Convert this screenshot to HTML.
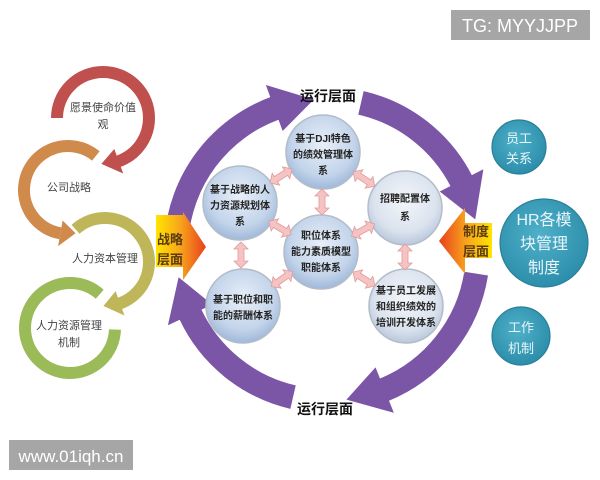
<!DOCTYPE html>
<html><head><meta charset="utf-8">
<style>
html,body{margin:0;padding:0;background:#fff;}
svg{display:block;}
text{font-family:"Liberation Sans","Noto Sans CJK SC",sans-serif;}
</style></head>
<body>
<svg width="600" height="480" viewBox="0 0 600 480" xmlns="http://www.w3.org/2000/svg">
<defs>
<radialGradient id="bc" cx="50%" cy="40%" r="60%">
<stop offset="0" stop-color="#e8eff8"/><stop offset="0.7" stop-color="#c3d4ea"/><stop offset="1" stop-color="#9fb8da"/>
</radialGradient>
<radialGradient id="bc2" cx="50%" cy="40%" r="60%">
<stop offset="0" stop-color="#f3f6fa"/><stop offset="0.7" stop-color="#dbe3ee"/><stop offset="1" stop-color="#b9c8dc"/>
</radialGradient>
<radialGradient id="tc" cx="45%" cy="40%" r="60%">
<stop offset="0" stop-color="#4fb0c9"/><stop offset="1" stop-color="#2d8eab"/>
</radialGradient>
<linearGradient id="ya" x1="0" y1="0" x2="1" y2="0">
<stop offset="0" stop-color="#ffe500"/><stop offset="0.5" stop-color="#f7a21c"/><stop offset="1" stop-color="#e8401c"/>
</linearGradient>
<linearGradient id="yb" x1="1" y1="0" x2="0" y2="0">
<stop offset="0" stop-color="#ffe500"/><stop offset="0.5" stop-color="#f7a21c"/><stop offset="1" stop-color="#e8401c"/>
</linearGradient>
<g id="da"><polygon points="-13,0 -6,-7 -6,-3 6,-3 6,-7 13,0 6,7 6,3 -6,3 -6,7" fill="#f6c3c3" stroke="#e09a9a" stroke-width="0.8"/></g>
</defs>

<!-- Left spiral -->
<g fill="none" stroke-width="12">
<circle cx="103" cy="118" r="46" stroke="#c0504d" stroke-dasharray="200.7 400" transform="rotate(180 103 118)"/>
<circle cx="68" cy="190" r="44" stroke="#d08a4c" stroke-dasharray="160.5 400" transform="rotate(100 68 190)"/>
<circle cx="105" cy="262" r="44" stroke="#bfb65a" stroke-dasharray="155.1 400" transform="rotate(228 105 262)"/>
<circle cx="70" cy="328" r="45" stroke="#9bbb59" stroke-dasharray="242.6 400" transform="rotate(2 70 328)"/>
</g>
<polygon points="33,0 59,0 42.6,17.2" fill="#c0504d" transform="translate(103 118) rotate(70)"/>
<polygon points="31,0 57,0 41.3,-15" fill="#d08a4c" transform="translate(68 190) rotate(100)"/>
<polygon points="31,0 57,0 40.8,16.5" fill="#bfb65a" transform="translate(105 262) rotate(70)"/>
<g font-size="11" fill="#444" text-anchor="middle">
<text x="103" y="111">愿景使命价值</text><text x="103" y="128">观</text>
<text x="69" y="191">公司战略</text>
<text x="105" y="262">人力资本管理</text>
<text x="69" y="329">人力资源管理</text><text x="69" y="346">机制</text>
</g>

<!-- Purple ring -->
<g fill="none" stroke="#7b55a6" stroke-width="24">
<path d="M151 0 A151 151 0 0 1 61.4 138" transform="translate(327 250) rotate(184)"/>
<path d="M151 0 A151 151 0 0 1 97.1 115.7" transform="translate(327 250) rotate(283)"/>
<path d="M151 0 A151 151 0 0 1 77.8 129.4" transform="translate(327 250) rotate(9)"/>
<path d="M151 0 A151 151 0 0 1 93 119" transform="translate(327 250) rotate(103)"/>
</g>
<g fill="#7b55a6">
<polygon points="127,-1 176,-1 145.9,39.1" transform="translate(327 250) rotate(250)"/>
<polygon points="127,-1 176,-1 146,40" transform="translate(327 250) rotate(333)"/>
<polygon points="127,-1 176,-1 146,38" transform="translate(327 250) rotate(68)"/>
<polygon points="127,-1 176,-1 146,38" transform="translate(327 250) rotate(155)"/>
</g>
<g font-size="14" font-weight="bold" fill="#111" text-anchor="middle">
<text x="328" y="101">运行层面</text>
<text x="325" y="414">运行层面</text>
</g>

<!-- Strategy / system arrows -->
<polygon points="156,215 183,215 183,212 206,247 183,280 183,267 156,267" fill="url(#ya)"/>
<g font-size="13" font-weight="bold" fill="#5a3a10" text-anchor="middle">
<text x="170" y="244">战略</text><text x="170" y="264">层面</text>
</g>
<polygon points="492,223 465,223 465,208 439,241 465,274 465,258 492,258" fill="url(#yb)"/>
<g font-size="13" font-weight="bold" fill="#5a3a10" text-anchor="middle">
<text x="476" y="236">制度</text><text x="476" y="256">层面</text>
</g>

<!-- Inner circles -->
<g stroke="#b4bcc8" stroke-width="1.5">
<circle cx="323" cy="152" r="37" fill="url(#bc)"/>
<circle cx="240" cy="203" r="37" fill="url(#bc)"/>
<circle cx="405" cy="208" r="37" fill="url(#bc2)"/>
<circle cx="321" cy="252" r="37" fill="url(#bc)"/>
<circle cx="243" cy="306" r="37" fill="url(#bc)"/>
<circle cx="406" cy="306" r="37" fill="url(#bc2)"/>
</g>
<g font-size="10" font-weight="bold" fill="#222" text-anchor="middle">
<text x="323" y="142">基于DJI特色</text><text x="323" y="158">的绩效管理体</text><text x="323" y="174">系</text>
<text x="240" y="193">基于战略的人</text><text x="240" y="209">力资源规划体</text><text x="240" y="225">系</text>
<text x="405" y="202">招聘配置体</text><text x="405" y="220">系</text>
<text x="321" y="239">职位体系</text><text x="321" y="255">能力素质模型</text><text x="321" y="271">职能体系</text>
<text x="243" y="303">基于职位和职</text><text x="243" y="319">能的薪酬体系</text>
<text x="406" y="294">基于员工发展</text><text x="406" y="310">和组织绩效的</text><text x="406" y="326">培训开发体系</text>
</g>
<!-- double arrows -->
<use href="#da" transform="translate(281 176) rotate(-32)"/>
<use href="#da" transform="translate(364 179) rotate(34)"/>
<use href="#da" transform="translate(322 202) rotate(90)"/>
<use href="#da" transform="translate(280 228) rotate(31)"/>
<use href="#da" transform="translate(363 230) rotate(-28)"/>
<use href="#da" transform="translate(241 255) rotate(90)"/>
<use href="#da" transform="translate(405 257) rotate(90)"/>
<use href="#da" transform="translate(282 279) rotate(-35)"/>
<use href="#da" transform="translate(364 279) rotate(32)"/>

<!-- Teal circles -->
<g stroke="#2a7f99" stroke-width="1.2">
<circle cx="519" cy="147" r="27" fill="url(#tc)"/>
<circle cx="544" cy="243" r="44" fill="url(#tc)"/>
<circle cx="521" cy="336" r="29" fill="url(#tc)"/>
</g>
<g fill="#e8f6fa" text-anchor="middle">
<text x="519" y="143" font-size="13">员工</text><text x="519" y="163" font-size="13">关系</text>
<text x="544" y="225" font-size="16">HR各模</text><text x="544" y="249" font-size="16">块管理</text><text x="544" y="273" font-size="16">制度</text>
<text x="521" y="332" font-size="13">工作</text><text x="521" y="353" font-size="13">机制</text>
</g>

<!-- watermarks -->
<rect x="451" y="10" width="139" height="30" fill="#a6a6a6"/>
<text x="520" y="32" font-size="18" fill="#fff" text-anchor="middle">TG: MYYJJPP</text>
<rect x="9" y="440" width="124" height="30" fill="#a6a6a6"/>
<text x="71" y="462" font-size="17" fill="#fff" text-anchor="middle">www.01iqh.cn</text>
</svg>
</body></html>
